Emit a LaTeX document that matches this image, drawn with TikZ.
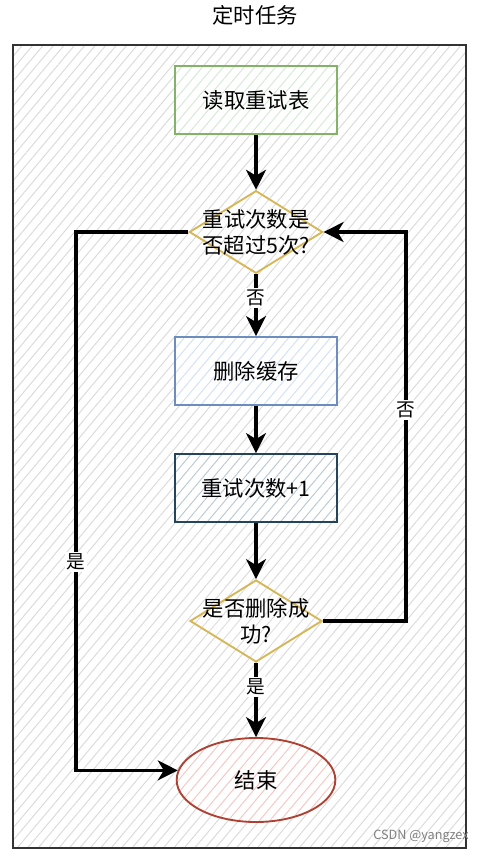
\documentclass[tikz,border=0pt]{standalone}
\usepackage{fontspec}
\setmainfont{Noto Sans CJK SC}
\usepackage{tikz}
\usetikzlibrary{arrows.meta,shapes.geometric,patterns.meta}
\definecolor{frameline}{HTML}{333333}
\definecolor{hatchgray}{HTML}{DADADA}
\definecolor{readline}{HTML}{82B366}
\definecolor{readhatch}{HTML}{D5E8D4}
\definecolor{delline}{HTML}{6C8EBF}
\definecolor{delhatch}{HTML}{D2E0F5}
\definecolor{incline}{HTML}{23445D}
\definecolor{inchatch}{HTML}{BAC8D3}
\definecolor{askline}{HTML}{D6B656}
\definecolor{askhatch}{HTML}{DEDEDE}
\definecolor{endline}{HTML}{AE4132}
\definecolor{endhatch}{HTML}{F5C6C3}

\begin{document}
\begin{tikzpicture}[x=0.75pt, y=-0.75pt,
  every node/.style={font=\fontsize{16}{19.5}\selectfont},
  hatch/.style={preaction={fill=white}, pattern={Lines[angle=50,distance=6pt,line width=0.7pt]}, pattern color=#1},
  box/.style={rectangle, draw=#1, line width=1.4pt, minimum width=122pt, minimum height=51pt, inner sep=0pt},
  ask/.style={diamond, draw=askline, line width=1.4pt, hatch=askhatch, minimum width=100pt, minimum height=62pt, inner sep=0pt},
  flow/.style={line width=2.3pt, -{Stealth[length=15pt,width=15pt,inset=4.5pt]}},
  lbl/.style={fill=white, inner sep=1.5pt, font=\fontsize{14}{16}\selectfont}]
  \useasboundingbox (0,0) rectangle (481,856);

  % Frame with title
  \draw[frameline, line width=1.6pt, hatch=hatchgray] (13,45) rectangle (466,848);
  \node (title) at (255,15) {定时任务};

  % Steps
  \node[box=readline, hatch=readhatch] (read) at (256,100) {读取重试表};
  \node[ask, label={[name=q1text, align=center]center:{重试次数是\\否超过5次?}}] (q1) at (256,232) {};
  \node[box=delline, hatch=delhatch] (del) at (256,371) {删除缓存};
  \node[box=incline, hatch=inchatch] (inc) at (256,488) {重试次数+1};
  \node[ask, minimum width=99pt, minimum height=61.5pt, label={[name=q2text, align=center]center:{是否删除成\\功?}}] (q2) at (256,621) {};
  \node[ellipse, draw=endline, line width=1.4pt, hatch=endhatch, minimum width=119pt, minimum height=63pt] (done) at (256,780) {结束};

  % Loop corners
  \coordinate (lft) at (76,562);
  \coordinate (rgt) at (406,410);

  % Connectors
  \draw[flow] (read) -- (q1);
  \draw[flow] (q1) -- (del);
  \draw[flow] (del) -- (inc);
  \draw[flow] (inc) -- (q2);
  \draw[flow] (q2) -- (done);
  \draw[flow] (q1.west) -| (lft) |- (done.173);
  \draw[flow] (q2.east) -| (rgt) |- (q1.east);

  % Branch labels
  \node[lbl] (no1) at (256,298) {否};
  \node[lbl] (yes1) at (256,687) {是};
  \node[lbl] (yes2) at (lft) {是};
  \node[lbl] (no2) at (rgt) {否};

  \node[font=\fontsize{9.5}{11}\selectfont, text=gray] (mark) at (421,836) {CSDN @yangzex};
\end{tikzpicture}
\end{document}
